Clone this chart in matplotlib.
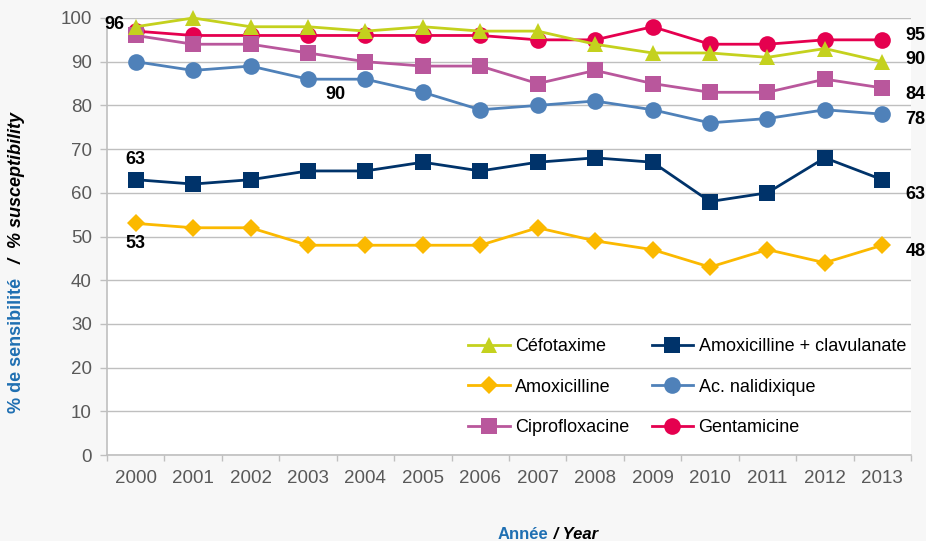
import numpy as np
import matplotlib
matplotlib.use("Agg")
import matplotlib.pyplot as plt

# ----------------------------
# Data
# ----------------------------
years = ['2000', '2001', '2002', '2003', '2004', '2005', '2006',
         '2007', '2008', '2009', '2010', '2011', '2012', '2013']

cefotaxime = [98, 100, 98, 98, 97, 98, 97, 97, 94, 92, 92, 91, 93, 90]
amoxicilline = [53, 52, 52, 48, 48, 48, 48, 52, 49, 47, 43, 47, 44, 48]
ciprofloxacine = [96, 94, 94, 92, 90, 89, 89, 85, 88, 85, 83, 83, 86, 84]
amox_clav = [63, 62, 63, 65, 65, 67, 65, 67, 68, 67, 58, 60, 68, 63]
nalidixique = [90, 88, 89, 86, 86, 83, 79, 80, 81, 79, 76, 77, 79, 78]
gentamicine = [97, 96, 96, 96, 96, 96, 96, 95, 95, 98, 94, 94, 95, 95]

series_names = ['Céfotaxime', 'Amoxicilline', 'Ciprofloxacine',
                'Amoxicilline + clavulanate', 'Ac. nalidixique', 'Gentamicine']

plt.rcParams['font.family'] = ['Liberation Sans', 'DejaVu Sans']

fig = plt.figure(figsize=(9.26, 5.41), dpi=100, facecolor='#f7f7f7')
ax = fig.add_axes([107/926, 86/541, 804/926, 437/541])
ax.set_facecolor('white')

x = np.arange(len(years))

# style per series: colour, marker, marker size, zorder
styles = [
    ('#c4d11e', '^', 11, 8),
    ('#fbb900', 'D', 9.5, 4),
    ('#b9579c', 's', 11, 6),
    ('#00336a', 's', 11, 5),
    ('#4f81b9', 'o', 12, 4),
    ('#e5004f', 'o', 12, 3),
]
values = [cefotaxime, amoxicilline, ciprofloxacine, amox_clav, nalidixique, gentamicine]

for name, vals, (col, mk, ms, z) in zip(series_names, values, styles):
    ax.plot(x, vals, color=col, marker=mk, markersize=ms, linewidth=2,
            markeredgewidth=0, label=name, zorder=z, clip_on=False)

ax.set_xlim(-0.5, len(years) - 0.5)
ax.set_ylim(0, 100)
ax.set_yticks(np.arange(0, 101, 10))
ax.set_xticks(x)
ax.set_xticklabels(years)
ax.set_xticks(np.arange(-0.5, len(years), 1), minor=True)

ax.grid(axis='y', color='#bfbfbf', linewidth=1, zorder=0)
ax.set_axisbelow(True)
for s in ['top', 'right']:
    ax.spines[s].set_visible(False)
for s in ['left', 'bottom']:
    ax.spines[s].set_color('#bfbfbf')
    ax.spines[s].set_linewidth(1.2)

ax.tick_params(axis='y', length=5, width=1, color='#bfbfbf', pad=6,
               labelsize=13.5, labelcolor='#595959')
ax.tick_params(axis='x', which='major', length=0, pad=11,
               labelsize=13.5, labelcolor='#595959')
ax.tick_params(axis='x', which='minor', length=4, width=1, color='#bfbfbf')

# value annotations
ann_kw = dict(fontsize=13, fontweight='bold', color='black', zorder=10)
ax.text(-0.38, 98.4, '96', ha='center', va='center', **ann_kw)
ax.text(3.47, 82.4, '90', ha='center', va='center', **ann_kw)
ax.text(0, 67.6, '63', ha='center', va='center', **ann_kw)
ax.text(0, 48.3, '53', ha='center', va='center', **ann_kw)
right_labels = [('95', 96.1), ('90', 90.4), ('84', 82.4), ('78', 76.7), ('63', 59.5), ('48', 46.5)]
for txt, yv in right_labels:
    ax.text(13.4, yv, txt, ha='left', va='center', clip_on=False, **ann_kw)

# legend (column-major, no frame)
leg = ax.legend(ncol=2, loc='center left', bbox_to_anchor=(0.429, 0.1556),
                frameon=False, fontsize=13, handlelength=2.3,
                columnspacing=1.23, labelspacing=1.3, handletextpad=0.3,
                borderpad=0.4)

# axis titles: two-part with colours
lab_kw = dict(fontsize=13, fontweight='bold', rotation=90)
fig.canvas.draw()
r = fig.canvas.get_renderer()
fig.text(17/926, (541-413)/541, '% de sensibilité', color='#1f6fb2',
         ha='center', va='bottom', **lab_kw)
fig.text(17/926, (541-261)/541, '/', color='black', style='italic',
         ha='center', va='center', **lab_kw)
fig.text(17/926, (541-248)/541, '% susceptibility', color='black',
         style='italic', ha='center', va='bottom', **lab_kw)

t2 = fig.text(0, 0, 'Année', color='#1f6fb2', fontsize=12, fontweight='bold')
w2 = t2.get_window_extent(r).width
t3 = fig.text(0, 0, ' / Year', color='black', fontsize=12, fontweight='bold', style='italic')
w3 = t3.get_window_extent(r).width
x0 = 548 - (w2 + w3) / 2
t2.set_position((x0/926, (541-539)/541))
t3.set_position(((x0 + w2)/926, (541-539)/541))

fig.savefig('out.png', dpi=100, facecolor=fig.get_facecolor())
